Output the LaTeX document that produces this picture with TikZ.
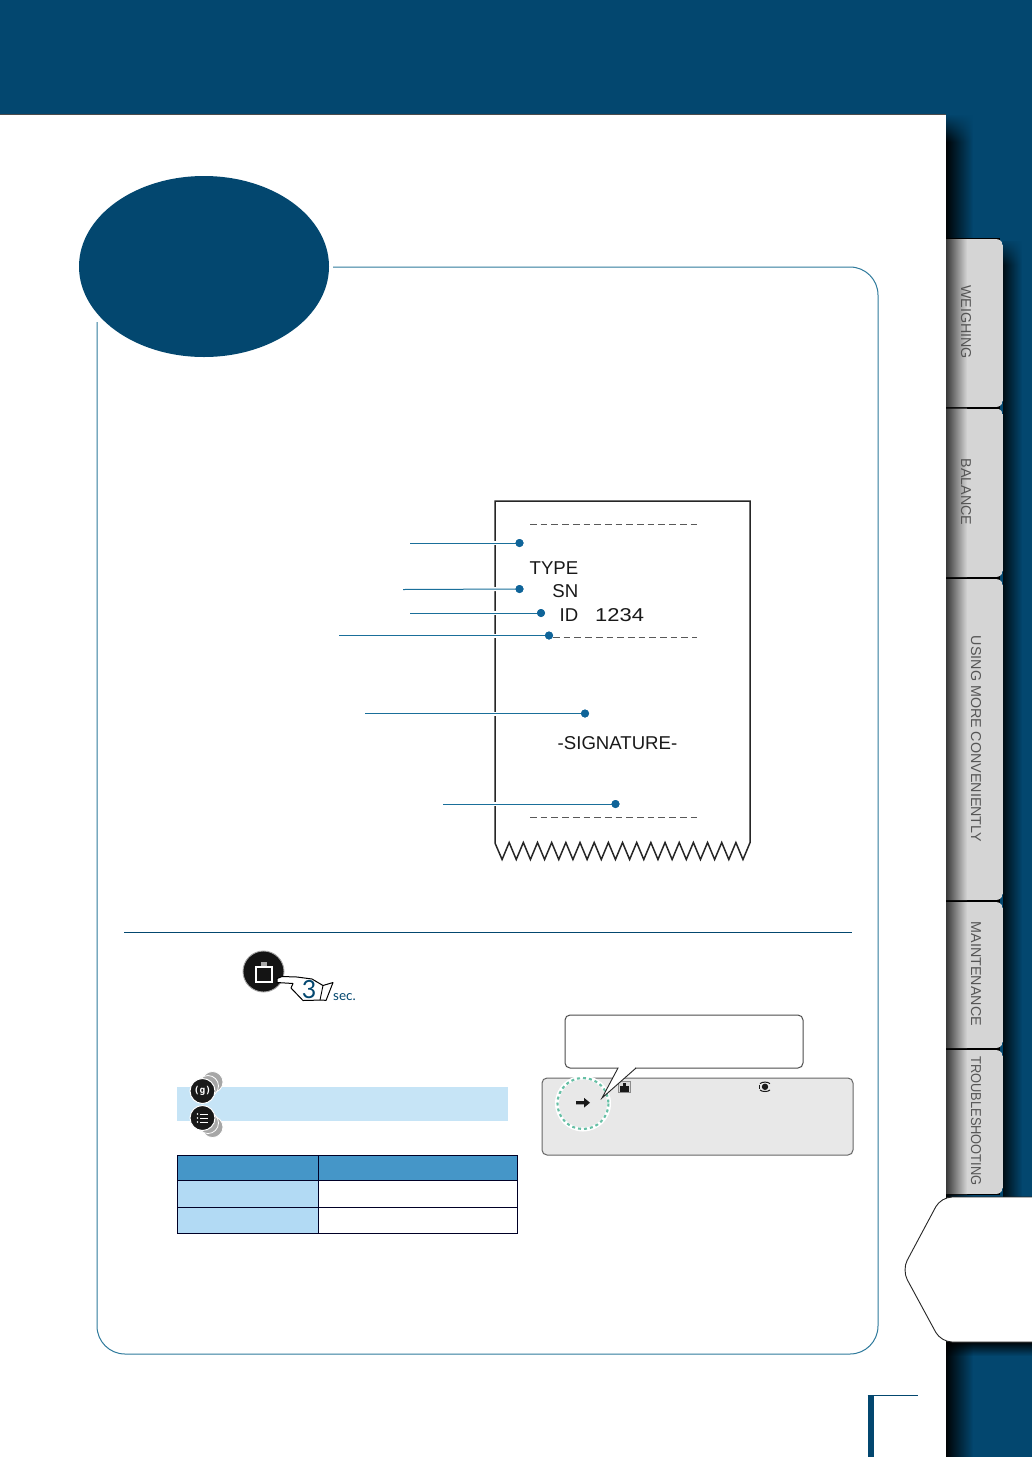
\documentclass[tikz,border=0pt]{standalone}
\usepackage{fontspec}
\setmainfont{Liberation Sans}
\newfontfamily\latofont{Lato}
\newfontfamily\dejamono{DejaVu Sans Mono}
\usetikzlibrary{fadings}
\definecolor{bgblue}{HTML}{03476F}
\definecolor{framec}{HTML}{2F7A9C}
\definecolor{dotc}{HTML}{0F6499}
\definecolor{leaderc}{HTML}{1A6F9A}
\definecolor{tabc}{HTML}{D5D5D5}
\definecolor{tabt}{HTML}{555555}
\definecolor{bandc}{HTML}{C6E4F6}
\definecolor{headc}{HTML}{4596C8}
\definecolor{cellc}{HTML}{B2DAF4}
\definecolor{panelc}{HTML}{E8E8E8}
\definecolor{greenc}{HTML}{66BFA5}
\tikzset{
  tablabel/.style={rotate=-90,text=tabt,font=\fontsize{14.3}{14.3}\selectfont,inner sep=0pt},
  dotnode/.style={circle,fill=dotc,minimum size=8pt,inner sep=0pt},
  leader/.style={draw=leaderc,line width=1pt},
  halo/.style={draw=white,line width=4pt},
  rtext/.style={font=\fontsize{18.6}{18.6}\selectfont,text=black!90,inner sep=0pt},
  dashline/.style={draw=black!65,line width=.7pt,dash pattern=on 6.7pt off 4pt},
  cellline/.style={draw=black!85!blue,line width=1pt},
  echo/.style={circle,fill=black!35,draw=white,line width=.8pt,minimum size=21pt,inner sep=0pt},
  smallbtn/.style={circle,fill=black!90,draw=white,line width=1pt,minimum size=25pt,inner sep=0pt,text=white},
}
\newcommand{\tabbody}[2]{%
  \fill[black] (946,#1-1) rectangle (1000,#2+1);
  \begin{scope}
    \clip[rounded corners=7pt] (930,#1) rectangle (1003,#2);
    \fill[tabc] (946,#1) rectangle (1003,#2);
    \shade[left color=black!78,right color=tabc] (946,#1) rectangle (967,#2);
  \end{scope}
}
\begin{document}
\begin{tikzpicture}[x=1pt,y=-1pt]
\useasboundingbox (0,0) rectangle (1032,1457);
% page background
\fill[bgblue] (0,0) rectangle (1032,1457);
% page shadow
\fill[black,path fading=east,opacity=.95] (946,114) rectangle (973,1457);
\fill[bgblue,path fading=south] (946,114) rectangle (980,142);
\fill[black,path fading=east,opacity=.8] (1003,240) rectangle (1022,1197);
\fill[bgblue,path fading=south] (1003,238) rectangle (1024,265);
\fill[white] (0,114) rectangle (946,1457);
\draw[black!70,line width=.5pt] (0,114) -- (946,114);
% tabs
\tabbody{239}{407}
\tabbody{408.5}{577}
\tabbody{579}{900}
\tabbody{902}{1048}
\tabbody{1050}{1194}
\node[tablabel] (tab1) at (966,322) {WEIGHING};
\node[tablabel] (tab2) at (966,492) {BALANCE};
\node[tablabel] (tab3) at (976,739) {USING MORE CONVENIENTLY};
\node[tablabel] (tab4) at (976,974) {MAINTENANCE};
\node[tablabel] (tab5) at (976,1121) {\scalebox{.9}[1]{TROUBLESHOOTING}};
% shadow under hexagon
\fill[black,path fading=south,opacity=.9] (946,1342) rectangle (1032,1356);
% hexagon
\draw[black!85,fill=white,line width=.9pt,rounded corners=11pt] (1050,1197) -- (941,1197) -- (902,1270) -- (941,1342) -- (1050,1342);
% frame
\draw[framec,line width=1pt,rounded corners=28pt] (333,267) -- (878,267) -- (878,1354) -- (97,1354) -- (97,322);
\fill[bgblue] (204,266.5) ellipse [x radius=125,y radius=90.5];
% page number bracket
\fill[bgblue] (867.5,1395) rectangle (873.5,1457);
\draw[bgblue,line width=.9pt] (867.5,1395) -- (918,1395);
% separator
\draw[bgblue,line width=1pt] (124,932.5) -- (852,932.5);
% receipt
\draw[black!85,line width=1.5pt,fill=white,line join=miter] (495,843)
  \foreach \i in {0,...,17} { -- ({495+\i*14.17+7.08},859.5) -- ({495+(\i+1)*14.17},842.5) }
  -- (750,501) -- (495,501) -- cycle;
\draw[dashline] (530,524.5) -- (697,524.5);
\draw[dashline] (553,637) -- (697,637);
\draw[dashline] (530,817.5) -- (697,817.5);
\node[rtext,anchor=base east] (tp) at (578.5,574.5) {TYPE};
\node[rtext,anchor=base east] (sn) at (578.5,597.5) {SN};
\node[rtext,anchor=base east] (id) at (578.5,621) {ID};
\node[rtext,anchor=base west,xscale=1.18] (num) at (595,621) {1234};
\node[rtext,anchor=base] (sig) at (617.5,749.5) {-SIGNATURE-};
% leaders
\coordinate (l1) at (410,543);
\coordinate (l2) at (403,589.5);
\coordinate (l3) at (410,613);
\coordinate (l4) at (339,635.5);
\coordinate (l5) at (365,713.5);
\coordinate (l6) at (443,804);
\node[dotnode] (d1) at (519.5,543) {};
\node[dotnode] (d2) at (519.5,589) {};
\node[dotnode] (d3) at (541,613) {};
\node[dotnode] (d4) at (549,635.5) {};
\node[dotnode] (d5) at (585,713.5) {};
\node[dotnode] (d6) at (615.5,804) {};
\foreach \n in {1,...,6} {
  \draw[halo] (l\n) -- (d\n.west);
  \draw[leader] (l\n) -- (d\n.center);
  \node[dotnode] at (d\n.center) {};
}
% main button with hand
\node[circle,fill=black!92,draw=black!35,line width=.9pt,minimum size=41pt,inner sep=0pt] (btn) at (263.5,971.5) {};
\fill[black!35] (260.5,962) rectangle (267,966.5);
\draw[white,line width=1.1pt,line join=miter] (256,967) rectangle (272,982);
\draw[black,fill=white,line width=1pt,line join=round] (277,978.5) -- (282,976.5) -- (297,977) -- (312,979) -- (323,985.5) -- (333,982.5) -- (326,1000.5) -- (323,1000) -- (303,1000.5) -- (291,988) -- (293,983.5) -- (277,982.5) -- cycle;
\draw[black,line width=.9pt] (323,985.5) -- (320,1000);
\node[text=bgblue,font=\latofont\fontsize{25}{25}\selectfont,inner sep=0pt] (three) at (309,990) {3};
\node[text=bgblue,font=\latofont\fontsize{13.5}{13.5}\selectfont,inner sep=0pt,anchor=base west] (sec) at (333,1000.5) {sec.};
% band with small buttons
\fill[bandc] (177,1087) rectangle (508,1121);
\node[echo] (e1) at (212.5,1082) {};
\node[echo] (e2) at (208,1086) {};
\node[smallbtn,font=\dejamono\bfseries\fontsize{9.5}{9.5}\selectfont] (bg) at (202.5,1091) {(g)};
\node[echo] (e3) at (212.5,1127) {};
\node[echo] (e4) at (208,1123) {};
\node[smallbtn] (bm) at (202.5,1118) {};
\foreach \yy in {1114,1118,1122} {
  \draw[white,line width=.7pt] (200,\yy) -- (208,\yy);
  \fill[white] (197.5,\yy) circle (.8);
}
% table
\fill[headc] (177.5,1155.5) rectangle (517.5,1180.5);
\fill[cellc] (177.5,1180.5) rectangle (318,1233.5);
\draw[cellline] (177.5,1155.5) rectangle (517.5,1233.5);
\draw[cellline] (318,1155.5) -- (318,1233.5);
\draw[cellline] (177.5,1180.5) -- (517.5,1180.5);
\draw[cellline] (177.5,1207.5) -- (517.5,1207.5);
% display panel
\draw[black!60,fill=panelc,line width=1pt,rounded corners=5pt] (542,1078) rectangle (853,1155);
\fill[white] (583,1103.5) circle (28);
\fill[panelc] (583,1103.5) circle (24);
\draw[greenc,line width=2.1pt,dash pattern=on 3pt off 3pt] (583,1103.5) circle (25.5);
\fill[black!90] (576,1101) -- (584,1101) -- (584,1097.8) -- (590,1102.7) -- (584,1107.6) -- (584,1104.4) -- (576,1104.4) -- cycle;
% panel icons
\draw[black!45,fill=black!15,line width=.7pt] (618.5,1081.5) rectangle (630,1092.5);
\fill[black!90] (620,1085.5) rectangle (628.5,1091.5);
\fill[black!90] (623,1083) rectangle (625.5,1085.5);
\fill[black!90] (765,1086.8) circle (3.2);
\draw[black!90,line width=1pt] (760,1083.6) .. controls (762,1081.6) and (768,1081.6) .. (770,1083.6);
\draw[black!90,line width=1pt] (760,1090) .. controls (762,1092) and (768,1092) .. (770,1090);
\draw[black!90,line width=1.2pt] (759.5,1084.5) -- (759.5,1089);
% callout
\coordinate (ca) at (618,1068);
\coordinate (cb) at (636,1068);
\coordinate (ct) at (602,1098);
\draw[black!70,fill=white,line width=1pt,rounded corners=5pt] (565,1015) rectangle (803,1068);
\fill[white] (ca) -- (cb) -- (ct) -- cycle;
\draw[white,line width=1.2pt] (618.6,1068) -- (635.4,1068);
\draw[black!85,line width=.9pt] (ca) -- (ct) -- (cb);
\end{tikzpicture}
\end{document}
